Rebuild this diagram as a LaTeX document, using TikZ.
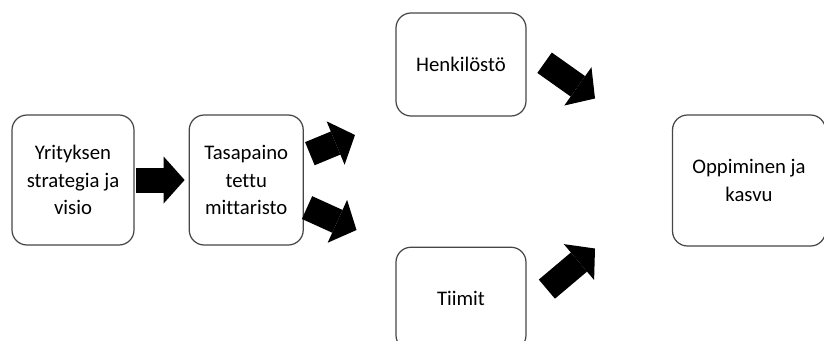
\documentclass[tikz,border=0pt]{standalone}
\usepackage{fontspec}
\setmainfont{Carlito}[Ligatures=NoCommon]
\usepackage{xcolor}
\usepackage{tikz}
\usetikzlibrary{arrows.meta,positioning}
\definecolor{boxline}{RGB}{70,70,70}
\tikzset{
    stagebox/.style={
        rectangle,
        rounded corners=3mm,
        draw=boxline,
        line width=0.7pt,
        fill=white,
        minimum width=2.6cm,
        minimum height=2.6cm,
        align=center,
        inner sep=2pt,
        font=\fontsize{11.8}{15.6}\selectfont
    },
    smallbox/.style={stagebox, minimum height=2.06cm},
    blockarrow/.style={
        line width=0.5cm,
        draw=black,
        -{Triangle[length=0.42cm, width=0.94cm, line width=0pt]}
    },
}

\begin{document}
\begin{tikzpicture}
    \useasboundingbox (0,0) rectangle (16.48,6.8);

    \node[stagebox, minimum width=2.44cm] (strategia) at (1.46,3.2) {Yrityksen\\strategia ja\\visio};
    \node[stagebox, minimum width=2.28cm, right=1.08cm of strategia] (mittaristo) {Tasapaino\\tettu\\mittaristo};

    \node[smallbox] (henkilosto) at (9.22,5.51) {Henkilöstö};
    \node[smallbox, below=2.6cm of henkilosto] (tiimit) {Tiimit};

    \node[stagebox, minimum width=3.06cm, minimum height=2.62cm] (oppiminen) at (14.98,3.19) {Oppiminen ja\\kasvu};

    % arrow heads that end in open space
    \coordinate (tipup) at (7.10,4.10);
    \coordinate (tipdown) at (7.13,2.20);
    \coordinate (tiphenk) at (11.9,4.83);
    \coordinate (tiptiimit) at (11.9,1.83);

    \draw[blockarrow, shorten <=0.02cm, shorten >=0.08cm] (strategia) -- (mittaristo);
    \draw[blockarrow, shorten <=0.13cm] (mittaristo) -- (tipup);
    \draw[blockarrow, shorten <=0.07cm] (mittaristo) -- (tipdown);
    \draw[blockarrow, shorten <=0.44cm] ([yshift=0.29cm]henkilosto.east) -- (tiphenk);
    \draw[blockarrow, shorten <=0.53cm] ([yshift=-0.15cm]tiimit.east) -- (tiptiimit);
\end{tikzpicture}
\end{document}
